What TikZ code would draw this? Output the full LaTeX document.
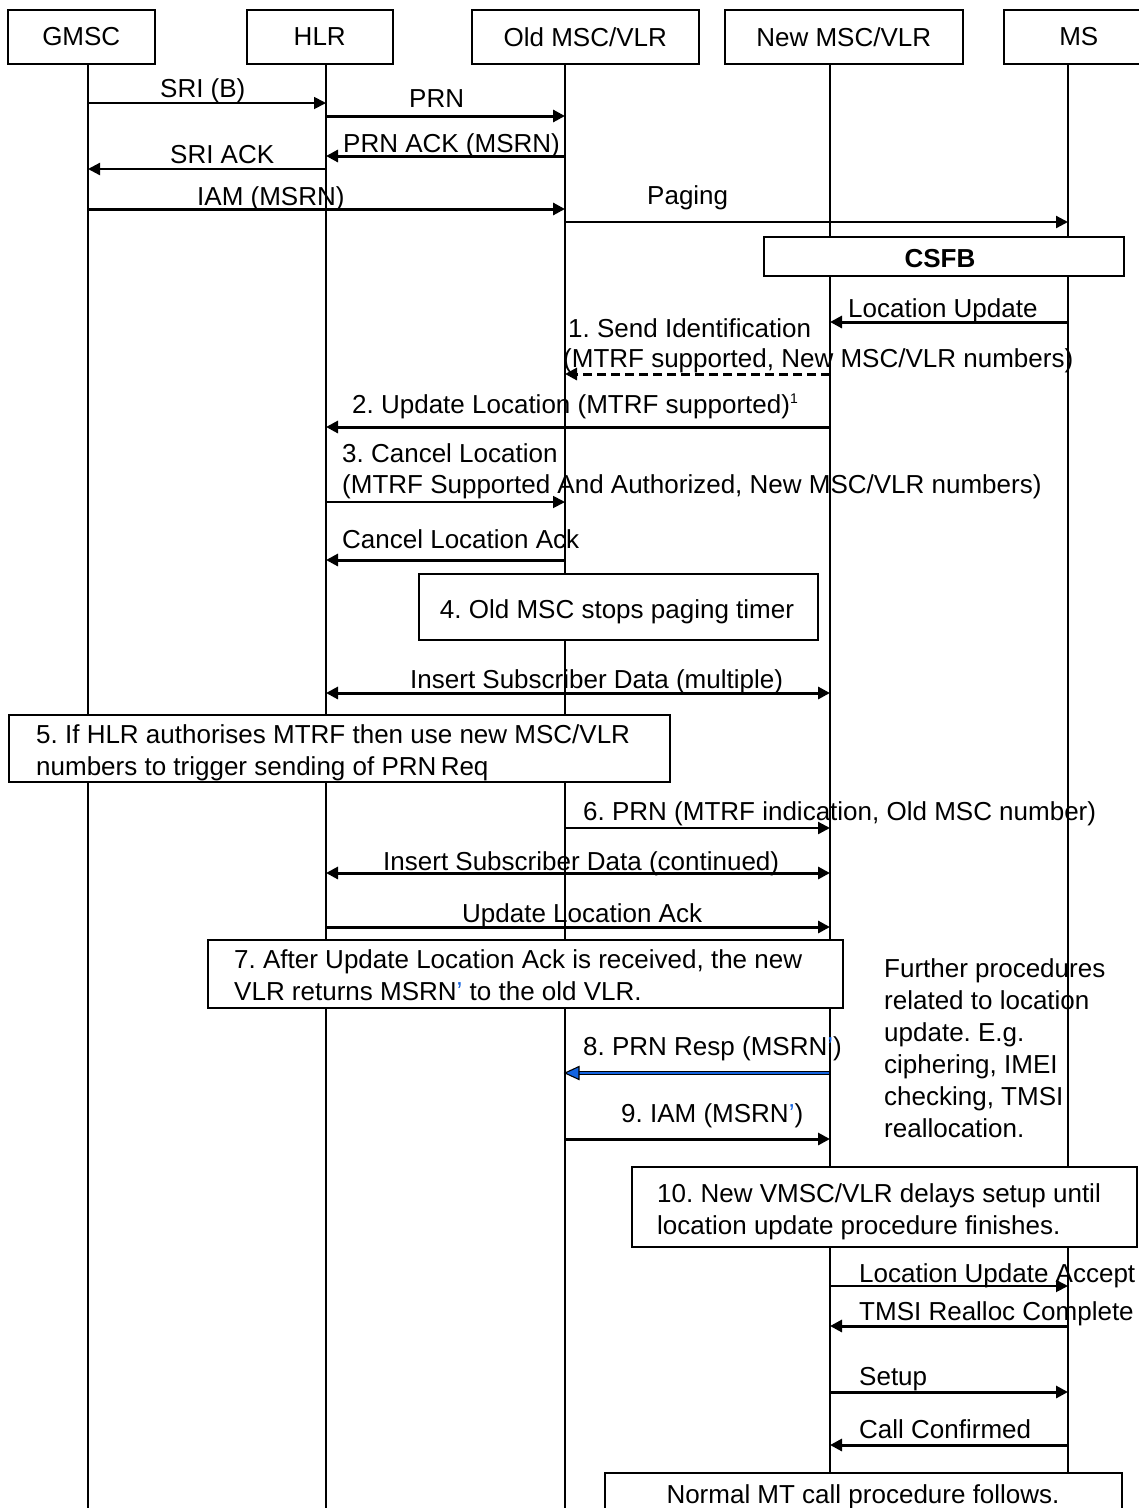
\documentclass[tikz,border=0pt]{standalone}
\usepackage{fontspec}
\setmainfont{Liberation Sans}
\usetikzlibrary{arrows.meta}
\definecolor{blueC}{RGB}{20,100,225}
\newcommand{\lbfont}{\fontsize{26}{32}\selectfont\frenchspacing}
\newcommand{\bq}{\textcolor{blueC}{’}}
\tikzset{
  life/.style={line width=1.3pt},
  hdr/.style={draw, line width=1.5pt, minimum height=54pt, inner sep=0pt, font=\lbfont, anchor=north west},
  msg/.style={line width=3pt, -{Triangle[length=12pt,width=12pt]}},
  msgmid/.style={line width=2.3pt, -{Triangle[length=12pt,width=12pt]}},
  msgthin/.style={line width=1.8pt, -{Triangle[length=12pt,width=12pt]}},
  bidir/.style={line width=3pt, {Triangle[length=12pt,width=12pt]}-{Triangle[length=12pt,width=12pt]}},
  lbl/.style={anchor=base west, inner sep=0pt, font=\lbfont},
  notebox/.style={draw, fill=white, line width=1.5pt},
  notetxt/.style={anchor=base west, inner sep=0pt, font=\lbfont, align=left},
}
\begin{document}
\frenchspacing
\begin{tikzpicture}[x=1pt,y=-1pt]
\useasboundingbox (0,0) rectangle (1139,1508);
\clip (0,0) rectangle (1139,1508);
% lifeline coordinates
\coordinate (G) at (88,63);  \coordinate (Ge) at (88,1508);
\coordinate (H) at (326,63); \coordinate (He) at (326,1508);
\coordinate (O) at (565,63); \coordinate (Oe) at (565,1508);
\coordinate (N) at (830,63); \coordinate (Ne) at (830,1508);
\coordinate (M) at (1068,63);\coordinate (Me) at (1068,1508);
\draw[life] (G) -- (Ge);
\draw[life] (H) -- (He);
\draw[life] (O) -- (Oe);
\draw[life] (N) -- (Ne);
\draw[life] (M) -- (Me);
% header boxes
\node[hdr, minimum width=147pt] (hG) at (7,9) {GMSC};
\node[hdr, minimum width=146pt] (hH) at (246,9) {HLR};
\node[hdr, minimum width=227pt] (hO) at (471,9) {Old MSC/VLR};
\node[hdr, minimum width=238pt] (hN) at (724,9) {New MSC/VLR};
\node[hdr, minimum width=150pt] (hM) at (1003,9) {MS};
% message rows
\coordinate (r1) at (0,103);
\coordinate (r2) at (0,116);
\coordinate (r3) at (0,156);
\coordinate (r4) at (0,169);
\coordinate (r5) at (0,209);
\coordinate (r6) at (0,222);
\coordinate (r7) at (0,322);
\coordinate (r8) at (0,374);
\coordinate (r9) at (0,427);
\coordinate (r10) at (0,502);
\coordinate (r11) at (0,560);
\coordinate (r12) at (0,693);
\coordinate (r13) at (0,828);
\coordinate (r14) at (0,873);
\coordinate (r15) at (0,927);
\coordinate (r16) at (0,1073);
\coordinate (r17) at (0,1139);
\coordinate (r18) at (0,1286);
\coordinate (r19) at (0,1326);
\coordinate (r20) at (0,1392);
\coordinate (r21) at (0,1445);
\draw[msgthin] (G|-r1) -- (H|-r1);
\draw[msg] (H|-r2) -- (O|-r2);
\draw[msg] (O|-r3) -- (H|-r3);
\draw[msgmid] (H|-r4) -- (G|-r4);
\draw[msg] (G|-r5) -- (O|-r5);
\draw[msgmid] (O|-r6) -- (M|-r6);
\draw[msg] (M|-r7) -- (N|-r7);
\draw[msg, dashed, dash pattern=on 9pt off 5pt] (N|-r8) -- (O|-r8);
\draw[msg] (N|-r9) -- (H|-r9);
\draw[msgthin] (H|-r10) -- (O|-r10);
\draw[msg] (O|-r11) -- (H|-r11);
\draw[bidir] (H|-r12) -- (N|-r12);
\draw[msgmid] (O|-r13) -- (N|-r13);
\draw[bidir] (H|-r14) -- (N|-r14);
\draw[msg] (H|-r15) -- (N|-r15);
% blue arrow 8
\draw[line width=4.6pt, black, shorten >=12pt] (N|-r16) -- (O|-r16);
\draw[line width=2.6pt, blueC, shorten >=11pt, shorten <=1pt] (N|-r16) -- (O|-r16);
\filldraw[fill=blueC, draw=black, line width=1.1pt] (O|-r16) -- ++(14,-6.5) -- ++(0,13) -- cycle;
\draw[msg] (O|-r17) -- (N|-r17);
\draw[msgthin] (N|-r18) -- (M|-r18);
\draw[msg] (M|-r19) -- (N|-r19);
\draw[msg] (N|-r20) -- (M|-r20);
\draw[msg] (M|-r21) -- (N|-r21);
% labels
\node[lbl] (l1) at (160,97) {SRI (B)};
\node[lbl] (l2) at (409,107) {PRN};
\node[lbl] (l3) at (343,152) {PRN ACK (MSRN)};
\node[lbl] (l4) at (170,163) {SRI ACK};
\node[lbl] (l5) at (197,205) {IAM (MSRN)};
\node[lbl] (l6) at (647,204) {Paging};
% CSFB box
\node[notebox, minimum width=360pt, minimum height=39pt, inner sep=0pt, anchor=north west] (csfb) at (763,236) {};
\node[anchor=base, inner sep=0pt, font=\lbfont\bfseries] (csfbt) at (940,267) {CSFB};
\node[lbl] (l7) at (848,317) {Location Update};
\node[lbl] (l8a) at (568,337) {1. Send Identification};
\node[lbl] (l8b) at (563,367) {(MTRF supported, New MSC/VLR numbers)};
\node[lbl] (l9) at (352,413) {2. Update Location (MTRF supported)\textsuperscript{\fontsize{14}{16}\selectfont 1}};
\node[lbl] (l10a) at (342,462) {3. Cancel Location};
\node[lbl] (l10b) at (342,493) {(MTRF Supported And Authorized, New MSC/VLR numbers)};
\node[lbl] (l11) at (342,548) {Cancel Location Ack};
% box 4
\node[notebox, minimum width=399pt, minimum height=66pt, inner sep=0pt, anchor=north west] (b4) at (418,573) {};
\node[anchor=base, inner sep=0pt, font=\lbfont] (b4t) at (617,618) {4. Old MSC stops paging timer};
\node[lbl] (l12) at (410,688) {Insert Subscriber Data (multiple)};
% box 5
\node[notebox, minimum width=661pt, minimum height=67pt, inner sep=0pt, anchor=north west] (b5) at (8,714) {};
\node[notetxt] (b5t) at (36,775) {5. If HLR authorises MTRF then use new MSC/VLR\\numbers to trigger sending of PRN\,Req};
\node[lbl] (l13) at (583,820) {6. PRN (MTRF indication, Old MSC number)};
\node[lbl] (l14) at (383,870) {Insert Subscriber Data (continued)};
\node[lbl] (l15) at (462,922) {Update Location Ack};
% box 7
\node[notebox, minimum width=635pt, minimum height=68pt, inner sep=0pt, anchor=north west] (b7) at (207,939) {};
\node[notetxt] (b7t) at (234,1000) {7. After Update Location Ack is received, the new\\VLR returns MSRN\bq{} to the old VLR.};
\node[notetxt] (fp) at (884,1137) {Further procedures\\related to location\\update. E.g.\\ciphering, IMEI\\checking, TMSI\\reallocation.};
\node[lbl] (l16) at (583,1055) {8. PRN Resp (MSRN\bq)};
\node[lbl] (l17) at (621,1122) {9. IAM (MSRN\bq)};
% box 10
\node[notebox, minimum width=505pt, minimum height=80pt, inner sep=0pt, anchor=north west] (b10) at (631,1166) {};
\node[notetxt] (b10t) at (657,1234) {10. New VMSC/VLR delays setup until\\location update procedure finishes.};
\node[lbl] (l18) at (859,1282) {Location Update Accept};
\node[lbl] (l19) at (859,1320) {TMSI Realloc Complete};
\node[lbl] (l20) at (859,1385) {Setup};
\node[lbl] (l21) at (859,1438) {Call Confirmed};
% bottom box
\node[notebox, minimum width=517pt, minimum height=60pt, inner sep=0pt, anchor=north west] (b11) at (604,1472) {};
\node[anchor=base, inner sep=0pt, font=\lbfont] (b11t) at (863,1503) {Normal MT call procedure follows.};
\end{tikzpicture}
\end{document}
